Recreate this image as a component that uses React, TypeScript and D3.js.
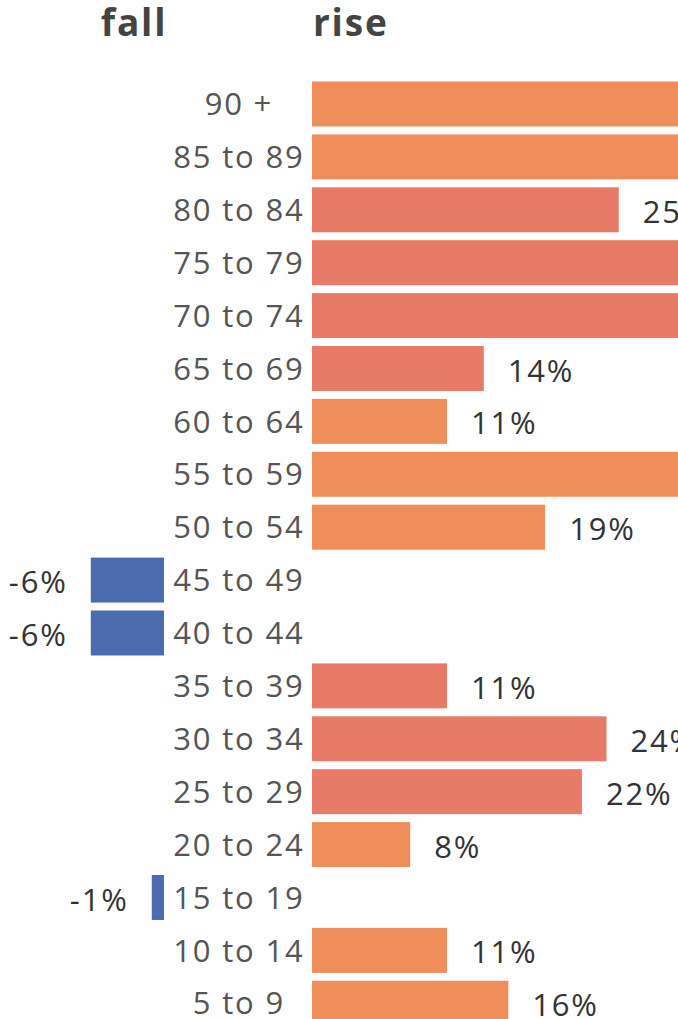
import { useEffect, useRef } from "react";
import * as d3 from "d3";

// age bands top to bottom
const ageBands = [
  "90 +", "85 to 89", "80 to 84", "75 to 79", "70 to 74", "65 to 69",
  "60 to 64", "55 to 59", "50 to 54", "45 to 49", "40 to 44", "35 to 39",
  "30 to 34", "25 to 29", "20 to 24", "15 to 19", "10 to 14", "5 to 9",
];
// percentage change per band (bars running off the page are estimates)
const changes = [36, 34, 25, 32, 31, 14, 11, 30, 19, -6, -6, 11, 24, 22, 8, -1, 11, 16];
// shade used for each rising bar: "o" orange, "r" red
const shades = ["o", "o", "r", "r", "r", "r", "o", "o", "o", "", "", "r", "r", "r", "o", "", "o", "o"];
const headings = ["fall", "rise"];

const W = 678;
const H = 1019;

export default function App() {
  const svgRef = useRef<SVGSVGElement>(null);

  useEffect(() => {
    if (!svgRef.current) return;
    const svg = d3.select(svgRef.current);
    svg.selectAll("*").remove();

    const rows = ageBands.map((band, i) => ({ band, value: changes[i], shade: shades[i] }));

    // rising bars start at the right of the labels, falling bars at the left
    const xRise = d3.scaleLinear().domain([0, 30]).range([312, 312 + 12.27 * 30]);
    const xFall = d3.scaleLinear().domain([0, 6]).range([164, 164 - 12.2 * 6]);

    const step = 52.9;
    const y = d3.scaleBand<string>()
      .domain(ageBands)
      .range([81.5 - 0.075 * step, 81.5 - 0.075 * step + ageBands.length * step])
      .paddingInner(0.15)
      .paddingOuter(0.075);

    const colour = (d: { value: number; shade: string }) =>
      d.value < 0 ? "#4d6cb0" : d.shade === "r" ? "#e87a68" : "#ef8e5a";

    const font = "'Open Sans', sans-serif";
    const ls = 1.8;

    svg.append("rect").attr("width", W).attr("height", H).attr("fill", "#fefefe");

    // headings
    svg.selectAll("text.heading")
      .data(headings)
      .enter()
      .append("text")
      .attr("class", "heading")
      .attr("x", (_, i) => (i === 0 ? 134 : 313))
      .attr("y", 36)
      .attr("text-anchor", (_, i) => (i === 0 ? "middle" : "start"))
      .attr("font-family", font)
      .attr("font-weight", 700)
      .attr("font-size", 37)
      .attr("letter-spacing", 1.8)
      .attr("fill", "#444")
      .text(d => d);

    // bars
    svg.selectAll("rect.bar")
      .data(rows)
      .enter()
      .append("rect")
      .attr("class", "bar")
      .attr("x", d => (d.value < 0 ? xFall(-d.value) : xRise(0)))
      .attr("width", d => (d.value < 0 ? xFall(0) - xFall(-d.value) : xRise(d.value) - xRise(0)))
      .attr("y", d => y(d.band)!)
      .attr("height", y.bandwidth())
      .attr("fill", colour);

    // category labels, centred between the two bar columns
    svg.selectAll("text.band")
      .data(rows)
      .enter()
      .append("text")
      .attr("class", "band")
      .attr("x", 238 + ls / 2)
      .attr("y", d => y(d.band)! + y.bandwidth() / 2)
      .attr("dy", "0.36em")
      .attr("text-anchor", "middle")
      .attr("font-family", font)
      .attr("font-size", 31)
      .attr("letter-spacing", ls)
      .attr("fill", "#555")
      .text(d => d.band);

    // value labels
    svg.selectAll("text.value")
      .data(rows)
      .enter()
      .append("text")
      .attr("class", "value")
      .attr("x", d => (d.value < 0 ? xFall(-d.value) - 25 + ls : xRise(d.value) + 24))
      .attr("y", d => y(d.band)! + y.bandwidth() / 2)
      .attr("dy", "0.42em")
      .attr("text-anchor", d => (d.value < 0 ? "end" : "start"))
      .attr("font-family", font)
      .attr("font-size", 31)
      .attr("letter-spacing", ls)
      .attr("fill", "#333")
      .text(d => `${d.value}%`);
  }, []);

  return (
    <svg
      ref={svgRef}
      width={W}
      height={H}
      style={{ position: "absolute", left: 0, top: 0, display: "block" }}
    />
  );
}
